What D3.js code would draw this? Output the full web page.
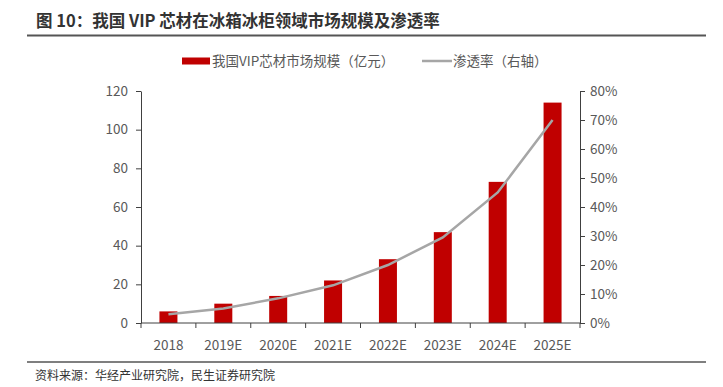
<!DOCTYPE html>
<html>
<head>
<meta charset="utf-8">
<script src="https://cdn.jsdelivr.net/npm/d3@7"></script>
<style>
  body { margin: 0; background: #fff; }
  text { font-family: "Noto Sans CJK SC", "Noto Sans", sans-serif; }
</style>
</head>
<body>
<div id="chart"></div>
<script>
// datos
const years = ["2018", "2019E", "2020E", "2021E", "2022E", "2023E", "2024E", "2025E"]
const marketSize = [6, 10, 14, 22, 33, 47, 73, 114]      // 亿元
const penetration = [3, 5, 8.5, 13, 20, 29.5, 45, 70]    // %
const leftTicks = [0, 20, 40, 60, 80, 100, 120]
const rightTicks = [0, 10, 20, 30, 40, 50, 60, 70, 80]

const width = 723
const height = 387
const margin = { top: 91, bottom: 64, left: 141, right: 143 }

const barColor = "#c00000"
const lineColor = "#a6a6a6"
const textColor = "#595959"

const svg = d3.select("div#chart").append("svg").attr("width", width).attr("height", height)

// titulo + lineas
svg.append("text")
    .attr("x", 36).attr("y", 27)
    .style("font-size", "16.5px").style("font-weight", "bold").attr("fill", "#333")
    .text("图 10：我国 VIP 芯材在冰箱冰柜领域市场规模及渗透率")
svg.append("line").attr("x1", 27).attr("x2", 706).attr("y1", 35.5).attr("y2", 35.5)
    .attr("stroke", "#555").attr("stroke-width", 2)
svg.append("line").attr("x1", 27).attr("x2", 706).attr("y1", 362).attr("y2", 362)
    .attr("stroke", "#555").attr("stroke-width", 1.5)
svg.append("text")
    .attr("x", 35).attr("y", 380)
    .style("font-size", "12px").attr("fill", "#333")
    .text("资料来源：华经产业研究院，民生证券研究院")

// escalas
const x = d3.scaleBand().domain(years).range([margin.left, width - margin.right]).padding(0)
const y = d3.scaleLinear().domain([0, 120]).range([height - margin.bottom, margin.top])
const y2 = d3.scaleLinear().domain([0, 80]).range([height - margin.bottom, margin.top])

// barras
const barW = 18
svg.append("g").selectAll("rect").data(marketSize).enter()
    .append("rect")
    .attr("x", (d, i) => x(years[i]) + x.bandwidth() / 2 - barW / 2)
    .attr("y", d => y(d))
    .attr("width", barW)
    .attr("height", d => y(0) - y(d))
    .attr("fill", barColor)

// linea
const line = d3.line()
    .x((d, i) => x(years[i]) + x.bandwidth() / 2)
    .y(d => y2(d))
svg.append("path").datum(penetration)
    .attr("d", line)
    .attr("fill", "none")
    .attr("stroke", lineColor)
    .attr("stroke-width", 2.5)

// ejes
const axisColor = "#404040"
const styleAxis = g => {
    g.select(".domain").attr("stroke", axisColor)
    g.selectAll(".tick line").attr("stroke", axisColor)
    g.selectAll(".tick text").attr("fill", textColor).style("font-size", "13.5px")
        .style("font-family", "'Noto Sans CJK SC', sans-serif")
}

const yAxisGroup = svg.append("g").attr("transform", `translate(${margin.left},0)`)
    .call(d3.axisLeft(y).tickValues(leftTicks).tickSize(5).tickSizeOuter(0).tickPadding(8))
styleAxis(yAxisGroup)

const y2AxisGroup = svg.append("g").attr("transform", `translate(${width - margin.right},0)`)
    .call(d3.axisRight(y2).tickValues(rightTicks).tickSize(5).tickSizeOuter(0).tickPadding(5)
        .tickFormat(d => d + "%"))
styleAxis(y2AxisGroup)

// eje x: ticks entre categorias
const xAxisGroup = svg.append("g").attr("transform", `translate(0,${height - margin.bottom})`)
xAxisGroup.append("line")
    .attr("x1", margin.left).attr("x2", width - margin.right)
    .attr("stroke", axisColor)
xAxisGroup.selectAll("line.tk").data(d3.range(years.length + 1)).enter()
    .append("line").attr("class", "tk")
    .attr("x1", i => margin.left + i * x.step()).attr("x2", i => margin.left + i * x.step())
    .attr("y1", 0).attr("y2", 5)
    .attr("stroke", axisColor)
xAxisGroup.selectAll("text").data(years).enter()
    .append("text")
    .attr("x", d => x(d) + x.bandwidth() / 2)
    .attr("y", 27)
    .attr("text-anchor", "middle")
    .attr("fill", textColor)
    .style("font-size", "13.5px")
    .text(d => d)

// leyenda
const legend = svg.append("g")
legend.append("rect").attr("x", 182).attr("y", 57.5).attr("width", 28).attr("height", 7).attr("fill", barColor)
legend.append("text").attr("x", 212).attr("y", 66).attr("fill", textColor).style("font-size", "13.5px")
    .text("我国VIP芯材市场规模（亿元）")
legend.append("line").attr("x1", 422).attr("x2", 452).attr("y1", 61).attr("y2", 61)
    .attr("stroke", lineColor).attr("stroke-width", 2.5)
legend.append("text").attr("x", 453).attr("y", 66).attr("fill", textColor).style("font-size", "13.5px")
    .text("渗透率（右轴）")
</script>
</body>
</html>
